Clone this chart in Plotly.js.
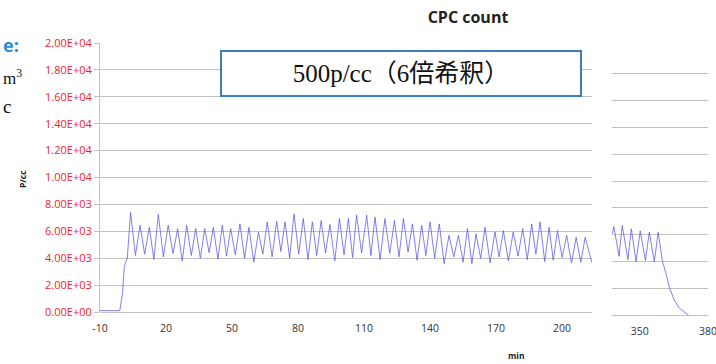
<!DOCTYPE html>
<html>
<head>
<meta charset="utf-8">
<script src="https://cdn.plot.ly/plotly-3.0.1.min.js"></script>
<style>html,body{margin:0;padding:0;background:#fff;}#chart{width:716px;height:364px;}</style>
</head>
<body>
<div id="chart"></div>
<script>
// ---- data (minutes, particles per cc) ----
const mainMinutes = [-10, -1, 0.3, 1.05, 1.8, 2.4,
  3.9, 6.1, 8.2, 10.3, 12.4, 14.5, 16.5, 18.8, 21.0, 23.2, 25.3, 27.4, 29.4, 31.5,
  33.5, 35.6, 37.6, 39.6, 41.5, 43.6, 45.6, 47.5, 49.4, 51.5, 53.6, 55.7, 57.7, 59.9,
  62.0, 64.0, 66.0, 68.2, 70.3, 72.2, 74.1, 76.2, 78.2, 80.3, 82.4, 84.5, 86.5, 88.5,
  90.5, 92.5, 94.5, 96.7, 98.8, 100.9, 102.9, 104.8, 106.6, 108.9, 111.2, 113.1,
  115.0, 117.3, 119.5, 121.7, 123.8, 125.9, 127.9, 130.0, 132.0, 134.1, 136.2, 138.1,
  140.0, 142.1, 144.2, 146.4, 148.6, 150.8, 152.9, 155.0, 157.0, 159.0, 160.9, 163.0,
  165.0, 167.3, 169.5, 171.4, 173.3, 175.6, 177.8, 180.0, 182.1, 184.2, 186.2, 188.1,
  190.0, 192.1, 194.1, 196.0, 197.9, 200.0, 202.1, 204.3, 206.4, 208.5, 210.5, 213.5];
const mainCounts = [100, 100, 1500, 3370, 3740, 4000,
  7400, 4200, 6450, 4300, 6300, 3900, 7250, 4100, 6450, 4350, 6200, 3800, 6450, 4200,
  6200, 4000, 6200, 4400, 6300, 3950, 6450, 4150, 6200, 4250, 6550, 4000, 6300, 3700,
  5950, 4300, 6700, 4100, 6750, 4500, 6700, 4000, 7300, 4300, 6950, 3900, 6700, 4200,
  6800, 4400, 6500, 3800, 6950, 4250, 6950, 4050, 7200, 4400, 7200, 4200,
  7050, 3900, 6950, 4350, 6800, 4100, 6950, 4450, 6550, 3850, 6450, 4200,
  6700, 4000, 6550, 3600, 5700, 4100, 5700, 3700, 6200, 3600, 5800, 4000,
  6300, 3650, 5950, 4100, 6050, 3800, 5950, 4150, 6200, 3900, 6550, 4300,
  6700, 3750, 6300, 3850, 6050, 4050, 5700, 3650, 5550, 3700, 5550, 3700];
const tailMinutes = [338.0, 338.6, 340.9, 342.3, 344.8, 346.3, 348.4, 350.2, 352.5,
  354.2, 356.4, 358.1, 360.0, 361.5, 362.9, 365.1, 367.3, 370.2, 371.6];
const tailCounts = [6100, 6600, 4400, 6700, 4150, 6450, 4000, 6300, 4100,
  6200, 4000, 6200, 4000, 3150, 2150, 1170, 560, 150, 0];

const yTickVals = [0, 2000, 4000, 6000, 8000, 10000, 12000, 14000, 16000, 18000, 20000];
const yTickText = ['0.00E+00', '2.00E+03', '4.00E+03', '6.00E+03', '8.00E+03', '1.00E+04',
  '1.20E+04', '1.40E+04', '1.60E+04', '1.80E+04', '2.00E+04'];
const xTickValsMain = [-10, 20, 50, 80, 110, 140, 170, 200];
const xTickTextMain = ['-10', '20', '50', '80', '110', '140', '170', '200'];
const xTickValsTail = [350, 380];
const xTickTextTail = ['350', '380'];

// ---- layout helpers ----
const W = 716, H = 364;
const px = v => v / W;
const py = v => 1 - v / H;
const lineColor = 'rgba(80,80,225,0.72)';
const gridColor = '#c2c2c2';
const font = 'Open Sans, Liberation Sans, sans-serif';

const traces = [
  {x: mainMinutes, y: mainCounts, type: 'scatter', mode: 'lines', xaxis: 'x', yaxis: 'y',
   line: {color: lineColor, width: 1}, hoverinfo: 'skip', showlegend: false},
  {x: tailMinutes, y: tailCounts, type: 'scatter', mode: 'lines', xaxis: 'x2', yaxis: 'y2',
   line: {color: lineColor, width: 1}, hoverinfo: 'skip', showlegend: false}
];

const layout = {
  width: W, height: H,
  margin: {l: 0, r: 0, t: 0, b: 0},
  paper_bgcolor: '#fff', plot_bgcolor: 'rgba(0,0,0,0)',
  showlegend: false,
  title: {text: '<b>CPC count</b>', x: px(468), y: py(17), xanchor: 'center', yanchor: 'middle',
          font: {family: font, size: 16, color: '#222'}},
  xaxis: {domain: [px(100), px(592)], range: [-10, 213.6], tickmode: 'array', tickvals: xTickValsMain, ticktext: xTickTextMain,
          showgrid: false, zeroline: false, showline: false, ticks: '', ticklabelstandoff: 8,
          tickfont: {family: font, size: 10.5, color: '#333'}, anchor: 'y'},
  yaxis: {domain: [py(312), py(43)], range: [0, 20000], tickmode: 'array', tickvals: yTickVals, ticktext: yTickText,
          showgrid: true, gridcolor: gridColor, gridwidth: 1, zeroline: true, zerolinecolor: gridColor, zerolinewidth: 1,
          showline: true, linecolor: gridColor, linewidth: 1, ticks: 'outside', ticklen: 5, tickcolor: gridColor,
          tickfont: {family: font, size: 11, color: '#e8262b'}, anchor: 'x'},
  xaxis2: {domain: [px(612), px(708)], range: [337.8, 380], tickmode: 'array', tickvals: xTickValsTail, ticktext: xTickTextTail,
          showgrid: false, zeroline: false, showline: false, ticks: '', ticklabelstandoff: 8, ticklabeloverflow: 'allow',
          tickfont: {family: font, size: 10.5, color: '#333'}, anchor: 'y2'},
  yaxis2: {domain: [py(315.5), py(46.5)], range: [0, 20000], tickmode: 'array', tickvals: yTickVals,
          showgrid: true, gridcolor: gridColor, gridwidth: 1, zeroline: true, zerolinecolor: gridColor, zerolinewidth: 1,
          showline: false, showticklabels: false, ticks: '', anchor: 'x2'},
  annotations: [
    {text: '500p/cc（6倍希釈）', xref: 'paper', yref: 'paper', x: px(401), y: py(73.5),
     xanchor: 'center', yanchor: 'middle', showarrow: false, width: 358, height: 43,
     bgcolor: '#fff', bordercolor: '#3a7dc0', borderwidth: 2, borderpad: 0,
     font: {family: 'Liberation Serif, Noto Sans CJK JP, serif', size: 25, color: '#111'}},
    {text: '<b>P/cc</b>', xref: 'paper', yref: 'paper', x: px(22), y: py(179), textangle: -90,
     xanchor: 'center', yanchor: 'middle', showarrow: false, font: {family: font, size: 8.5, color: '#222'}},
    {text: '<b>min</b>', xref: 'paper', yref: 'paper', x: px(516), y: py(355),
     xanchor: 'center', yanchor: 'middle', showarrow: false, font: {family: font, size: 8.5, color: '#222'}},
    {text: '<b>e:</b>', xref: 'paper', yref: 'paper', x: px(1), y: py(45),
     xanchor: 'left', yanchor: 'middle', showarrow: false, font: {family: font, size: 18, color: '#2a8fd6'}},
    {text: 'm<sup>3</sup>', xref: 'paper', yref: 'paper', x: px(1), y: py(77),
     xanchor: 'left', yanchor: 'middle', showarrow: false, font: {family: 'Liberation Serif, serif', size: 17, color: '#111'}},
    {text: 'c', xref: 'paper', yref: 'paper', x: px(1), y: py(106),
     xanchor: 'left', yanchor: 'middle', showarrow: false, font: {family: 'Liberation Serif, serif', size: 19, color: '#111'}}
  ]
};

Plotly.newPlot('chart', traces, layout, {displayModeBar: false, staticPlot: true});
</script>
</body>
</html>
